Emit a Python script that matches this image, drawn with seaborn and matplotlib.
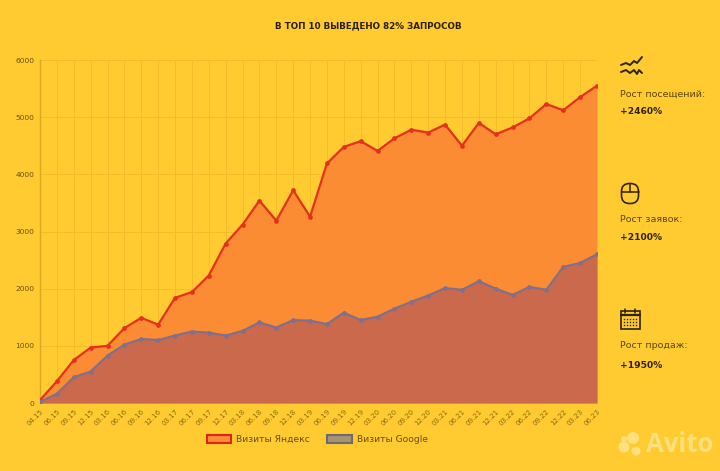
import matplotlib
matplotlib.use('Agg')
import matplotlib.pyplot as plt
import matplotlib.patches as mpatches
import pandas as pd
import seaborn as sns

# Chart data
periods = ['04.15', '06.15', '09.15', '12.15', '03.16', '06.16', '09.16', '12.16', '03.17',
           '06.17', '09.17', '12.17', '03.18', '06.18', '09.18', '12.18', '03.19', '06.19',
           '09.19', '12.19', '03.20', '06.20', '09.20', '12.20', '03.21', '06.21', '09.21',
           '12.21', '03.22', '06.22', '09.22', '12.22', '03.23', '06.23']
yandex = [50, 380, 750, 970, 1000, 1310, 1490, 1370, 1840, 1940, 2230, 2790, 3120, 3540, 3190,
          3720, 3260, 4190, 4480, 4580, 4410, 4630, 4780, 4730, 4870, 4500, 4900, 4700, 4820,
          4980, 5230, 5120, 5350, 5550]
google = [20, 160, 450, 550, 830, 1020, 1120, 1100, 1180, 1250, 1230, 1180, 1260, 1410, 1320,
          1450, 1440, 1380, 1580, 1450, 1510, 1650, 1770, 1880, 2010, 1980, 2130, 2000, 1890,
          2030, 1980, 2380, 2450, 2600]
y_ticks = [0, 1000, 2000, 3000, 4000, 5000, 6000]
stats = [('Рост посещений:', '+2460%'), ('Рост заявок:', '+2100%'), ('Рост продаж:', '+1950%')]

BG = '#ffcb30'
DARK = '#5e4510'
ICON = '#2e2208'

df = pd.DataFrame({'period': periods, 'yandex': yandex, 'google': google})
df['pos'] = range(len(df))

sns.set_theme(style='white')
plt.rcParams['font.family'] = ['DejaVu Sans']

fig = plt.figure(figsize=(7.2, 4.71), dpi=100, facecolor=BG)
ax = fig.add_axes([40 / 720, 68 / 471, 557 / 720, 343 / 471], facecolor=BG)

# Filled areas, slightly see-through so the grid shows faintly
ax.fill_between(df['pos'], df['yandex'], color='#fb8a34', alpha=0.96, zorder=2, lw=0)
ax.fill_between(df['pos'], df['google'], color='#c9684f', alpha=0.96, zorder=3, lw=0)

# Lines with small markers
sns.lineplot(data=df, x='pos', y='yandex', ax=ax, color='#e5301c', lw=1.6, marker='o', ms=3.4,
             markeredgewidth=0, zorder=4)
sns.lineplot(data=df, x='pos', y='google', ax=ax, color='#80708c', lw=1.6, marker='o', ms=3.4,
             markeredgewidth=0, zorder=5)

ax.set_xlim(0, len(df) - 1)
ax.set_ylim(0, 6000)
ax.set_xlabel('')
ax.set_ylabel('')
ax.set_xticks(df['pos'])
ax.set_xticklabels(periods, rotation=45, ha='right', rotation_mode='anchor', fontsize=5, color='#8a6a16')
ax.set_yticks(y_ticks)
ax.set_yticklabels(y_ticks, fontsize=5.4, color='#6b5010')
ax.tick_params(axis='both', length=0, pad=4)
ax.grid(True, color='#f2bc2a', lw=0.7, zorder=1)
ax.set_axisbelow(True)
sns.despine(ax=ax, top=True, right=True, bottom=True, left=False)
ax.spines['left'].set_color('#d9a91e')
ax.spines['left'].set_linewidth(1)

fig.text(368 / 720, 1 - 26 / 471, 'В ТОП 10 ВЫВЕДЕНО 82% ЗАПРОСОВ', ha='center', va='center',
         fontsize=6.3, fontweight='bold', color='#2a2008')

# Overlay in pixel coordinates for legend, icons and side notes
ov = fig.add_axes([0, 0, 1, 1], facecolor='none')
ov.set_xlim(0, 720)
ov.set_ylim(471, 0)
ov.axis('off')

ov.add_patch(mpatches.Rectangle((207, 435), 24, 8, fc='#fb8b36', ec='#d8281a', lw=1.5))
ov.text(236, 439, 'Визиты Яндекс', fontsize=6.6, color='#6b4c10', va='center')
ov.add_patch(mpatches.Rectangle((327, 435), 25, 8, fc='#a39472', ec='#6f6a72', lw=1.5))
ov.text(357, 439, 'Визиты Google', fontsize=6.6, color='#6b4c10', va='center')

# Side notes
for (label, value), y_label, y_value in zip(stats, [94, 219, 346], [112, 238, 365]):
    ov.text(620, y_label, label, fontsize=6.8, color=DARK, va='center')
    ov.text(620, y_value, value, fontsize=6.6, fontweight='bold', color=ICON, va='center')

# Wave icon
ov.plot([621, 626, 630, 634, 637, 642], [65, 63, 65, 61, 63, 57], color=ICON, lw=1.4)
ov.plot([621, 626, 630, 634, 637, 639, 642], [72, 70, 73, 70, 74, 70, 73], color=ICON, lw=1.4)

# Mouse icon
ov.add_patch(mpatches.FancyBboxPatch((621.5, 183.5), 17, 20, boxstyle='round,pad=0,rounding_size=8',
                                     fc='none', ec=ICON, lw=1.2))
ov.plot([621.5, 638.5], [192, 192], color=ICON, lw=1.1)
ov.plot([630, 630], [183.5, 192], color=ICON, lw=1.1)

# Calendar icon
ov.add_patch(mpatches.Rectangle((621, 311), 18.5, 18, fc='none', ec=ICON, lw=1.2))
ov.plot([621, 639.5], [315, 315], color=ICON, lw=1.6)
ov.plot([625, 625], [309, 313], color=ICON, lw=1.1)
ov.plot([635, 635], [309, 313], color=ICON, lw=1.1)
for row_y in [318.5, 321.5, 324.5]:
    ov.plot([624, 627, 630, 633, 636], [row_y] * 5, ls='none', marker='s', ms=1, color=ICON,
            markeredgewidth=0)

# Watermark
for cx, cy, r in [(633, 438, 6), (624, 439, 3), (624, 447, 5.5), (636, 451, 4.5)]:
    ov.add_patch(mpatches.Circle((cx, cy), r, fc='#ffe07f', ec='none'))
ov.text(646, 445, 'Avito', fontsize=18.5, family='Open Sans', fontweight='bold', color='#ffe07f', va='center')

fig.savefig('out.png', dpi=100, facecolor=BG)
